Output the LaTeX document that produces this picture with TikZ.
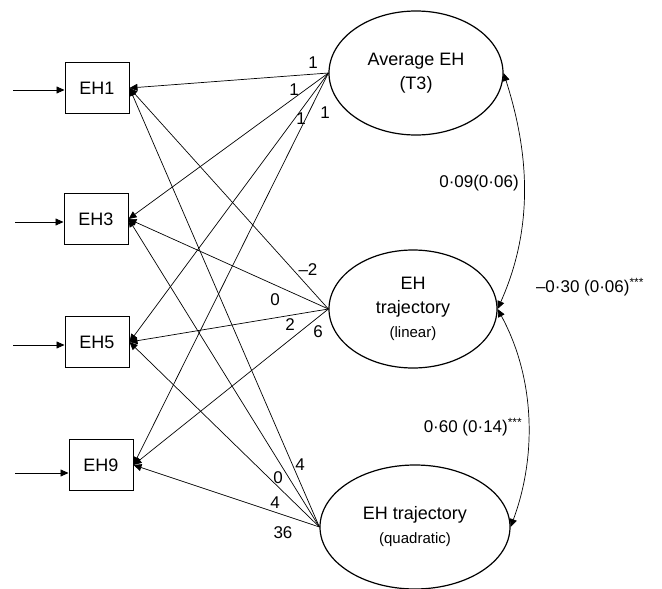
\documentclass[tikz,border=0pt]{standalone}
\usepackage{fontspec}
\setmainfont{Liberation Sans}
\usetikzlibrary{shapes.geometric,arrows.meta}
\tikzset{
  obs/.style={draw, line width=1pt, minimum width=64pt, minimum height=51pt, inner sep=0pt, font=\fontsize{18}{20}\selectfont},
  lat/.style={draw, ellipse, line width=1.2pt, inner sep=0pt, align=center, font=\fontsize{18}{24}\selectfont},
  path/.style={line width=0.7pt, -{Triangle[length=8pt,width=7pt]}},
  num/.style={inner sep=0pt, font=\fontsize{17}{20}\selectfont},
}
\begin{document}
\begin{tikzpicture}[x=1pt,y=-1pt]
\useasboundingbox (0,0) rectangle (662,589);
%% observed
\node[obs] (eh1) at (97,88) {EH1};
\node[obs] (eh3) at (96,219) {EH3};
\node[obs] (eh5) at (97,342) {EH5};
\node[obs] (eh9) at (101,465) {EH9};
%% latent
\node[lat, minimum width=174pt, minimum height=124pt] (avg) at (416,73) {Average EH\\(T3)};
\node[lat, minimum width=168pt, minimum height=118pt] (lin) at (413,309) {EH\\trajectory\\{\fontsize{15}{18}\selectfont(linear)}};
\node[lat, minimum width=190pt, minimum height=124pt] (quad) at (415,527) {EH trajectory\\{\fontsize{15}{18}\selectfont(quadratic)}};
%% inputs
\coordinate (in1) at (13,90);
\coordinate (in3) at (15,222);
\coordinate (in5) at (13,345);
\coordinate (in9) at (15,473);
\draw[path] (in1) -- (in1 -| eh1.west);
\draw[path] (in3) -- (in3 -| eh3.west);
\draw[path] (in5) -- (in5 -| eh5.west);
\draw[path] (in9) -- (in9 -| eh9.west);
%% loadings
\foreach \f in {avg,lin,quad} {
  \foreach \o in {eh1,eh3,eh5,eh9} {
    \draw[path] (\f.west) -- (\o.east);
  }
}
\node[num] (a1) at (313,63) {1};
\node[num] (a3) at (294,90) {1};
\node[num] (a5) at (301,119) {1};
\node[num] (a9) at (325,113) {1};
\node[num] (l1) at (308,270) {--2};
\node[num] (l3) at (275,300) {0};
\node[num] (l5) at (290,325) {2};
\node[num] (l9) at (318,332) {6};
\node[num] (q1) at (300,465) {4};
\node[num] (q3) at (278,478) {0};
\node[num] (q5) at (275,503) {4};
\node[num] (q9) at (283,533) {36};
%% covariances
\draw[path, {Triangle[length=8pt,width=7pt]}-{Triangle[length=8pt,width=7pt]}] (lin.east) .. controls +(38,-85) and +(24,75) .. (avg.east);
\draw[path, {Triangle[length=8pt,width=7pt]}-{Triangle[length=8pt,width=7pt]}] (lin.east) .. controls +(38,70) and +(26,-70) .. (quad.east);
\node[num] (c1) at (479,183) {0·09(0·06)};
\node[num] (c2) at (590,287) {–0·30 (0·06)\textsuperscript{***}};
\node[num] (c3) at (473,427) {0·60 (0·14)\textsuperscript{***}};
\end{tikzpicture}
\end{document}
